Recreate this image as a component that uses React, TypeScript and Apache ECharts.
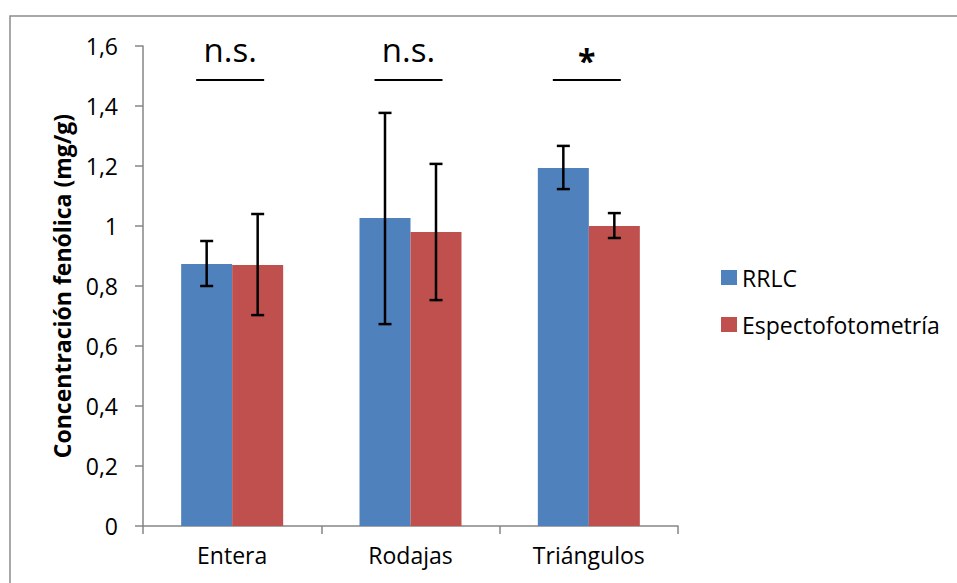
import React, { useEffect, useRef } from "react";
import * as echarts from "echarts";

const categories = ["Entera", "Rodajas", "Triángulos"];
const seriesNames = ["RRLC", "Espectofotometría"];
const rrlcValues = [0.873, 1.027, 1.193];
const espValues = [0.87, 0.98, 1.0];
const rrlcLow = [0.8, 0.673, 1.123];
const rrlcHigh = [0.95, 1.377, 1.267];
const espLow = [0.703, 0.753, 0.96];
const espHigh = [1.04, 1.207, 1.043];
const significance = ["n.s.", "n.s.", "*"];
const yTicks = [0, 0.2, 0.4, 0.6, 0.8, 1, 1.2, 1.4, 1.6];

const FONT = "Open Sans";
const BAR_FRAC = 0.286;

export default function App() {
  const ref = useRef<HTMLDivElement>(null);
  useEffect(() => {
    if (!ref.current) return;
    const chart = echarts.init(ref.current, null, { renderer: "svg" });

    const errorSeries = (low: number[], high: number[], side: number) => ({
      type: "custom",
      silent: true,
      z: 10,
      data: categories.map((_, i) => [i, low[i], high[i]]),
      encode: { x: 0, y: [1, 2] },
      renderItem: (params: any, api: any) => {
        const i = api.value(0);
        const bw = api.size([1, 0])[0] * BAR_FRAC;
        const pLow = api.coord([i, api.value(1)]);
        const pHigh = api.coord([i, api.value(2)]);
        const x = pLow[0] + side * bw / 2;
        const cap = 6.5;
        const style = { stroke: "#000", lineWidth: 2.5 };
        return {
          type: "group",
          children: [
            { type: "line", shape: { x1: x, y1: pHigh[1], x2: x, y2: pLow[1] }, style },
            { type: "line", shape: { x1: x - cap, y1: pHigh[1], x2: x + cap, y2: pHigh[1] }, style },
            { type: "line", shape: { x1: x - cap, y1: pLow[1], x2: x + cap, y2: pLow[1] }, style },
          ],
        };
      },
    });

    chart.setOption({
      animation: false,
      textStyle: { fontFamily: FONT },
      grid: { left: 143, right: 279, top: 46, bottom: 57 },
      graphic: [
        {
          type: "rect",
          shape: { x: 10, y: 16, width: 980, height: 620 },
          style: { fill: "none", stroke: "#8c8c8c", lineWidth: 1.5 },
          silent: true,
        },
      ],
      legend: {
        orient: "vertical",
        left: 721,
        top: 266,
        padding: 0,
        itemWidth: 16,
        itemHeight: 15,
        itemGap: 24,
        icon: "rect",
        data: seriesNames,
        textStyle: { fontFamily: FONT, fontSize: 23, color: "#000" },
      },
      xAxis: {
        type: "category",
        data: categories,
        axisLine: { lineStyle: { color: "#868686", width: 1.5 } },
        axisTick: { show: true, length: 8, lineStyle: { color: "#868686", width: 1.5 } },
        axisLabel: { color: "#000", fontSize: 23, margin: 17, fontFamily: FONT },
      },
      yAxis: {
        type: "value",
        min: 0,
        max: 1.6,
        interval: 0.2,
        name: "Concentración fenólica (mg/g)",
        nameLocation: "middle",
        nameGap: 70,
        nameTextStyle: { fontFamily: FONT, fontSize: 23, fontWeight: "bold", color: "#000" },
        splitLine: { show: false },
        axisLine: { show: true, lineStyle: { color: "#868686", width: 1.5 } },
        axisTick: { show: true, length: 8, lineStyle: { color: "#868686", width: 1.5 } },
        axisLabel: {
          color: "#000",
          fontSize: 23,
          margin: 25,
          fontFamily: FONT,
          formatter: (v: number) => {
            const t = yTicks.find((k) => Math.abs(k - v) < 1e-6);
            return String(+(t ?? v).toFixed(1)).replace(".", ",");
          },
        },
      },
      series: [
        {
          name: seriesNames[0],
          type: "bar",
          data: rrlcValues,
          barWidth: BAR_FRAC * 100 + "%",
          barGap: "0%",
          itemStyle: { color: "#4F81BD" },
        },
        {
          name: seriesNames[1],
          type: "bar",
          data: espValues,
          barWidth: BAR_FRAC * 100 + "%",
          barGap: "0%",
          itemStyle: { color: "#C0504D" },
        },
        errorSeries(rrlcLow, rrlcHigh, -1),
        errorSeries(espLow, espHigh, 1),
        {
          type: "custom",
          silent: true,
          z: 10,
          data: categories.map((_, i) => [i, 1.6]),
          encode: { x: 0, y: 1 },
          renderItem: (params: any, api: any) => {
            const i = api.value(0);
            const p = api.coord([i, api.value(1)]);
            const label = significance[params.dataIndex];
            const isStar = label === "*";
            return {
              type: "group",
              children: [
                {
                  type: "text",
                  x: p[0] - 2,
                  y: p[1] + (isStar ? 14 : 3),
                  style: {
                    text: label,
                    fontFamily: FONT,
                    fontSize: isStar ? 32 : 33,
                    fontWeight: isStar ? "bold" : "normal",
                    fill: "#000",
                    align: "center",
                    verticalAlign: "middle",
                  },
                },
                {
                  type: "line",
                  shape: { x1: p[0] - 36, y1: p[1] + 34, x2: p[0] + 32, y2: p[1] + 34 },
                  style: { stroke: "#000", lineWidth: 2 },
                },
              ],
            };
          },
        },
      ],
    });
    return () => chart.dispose();
  }, []);
  return (
    <div
      ref={ref}
      style={{ position: "fixed", left: 0, top: 0, width: 957, height: 583, background: "#fff" }}
    />
  );
}
